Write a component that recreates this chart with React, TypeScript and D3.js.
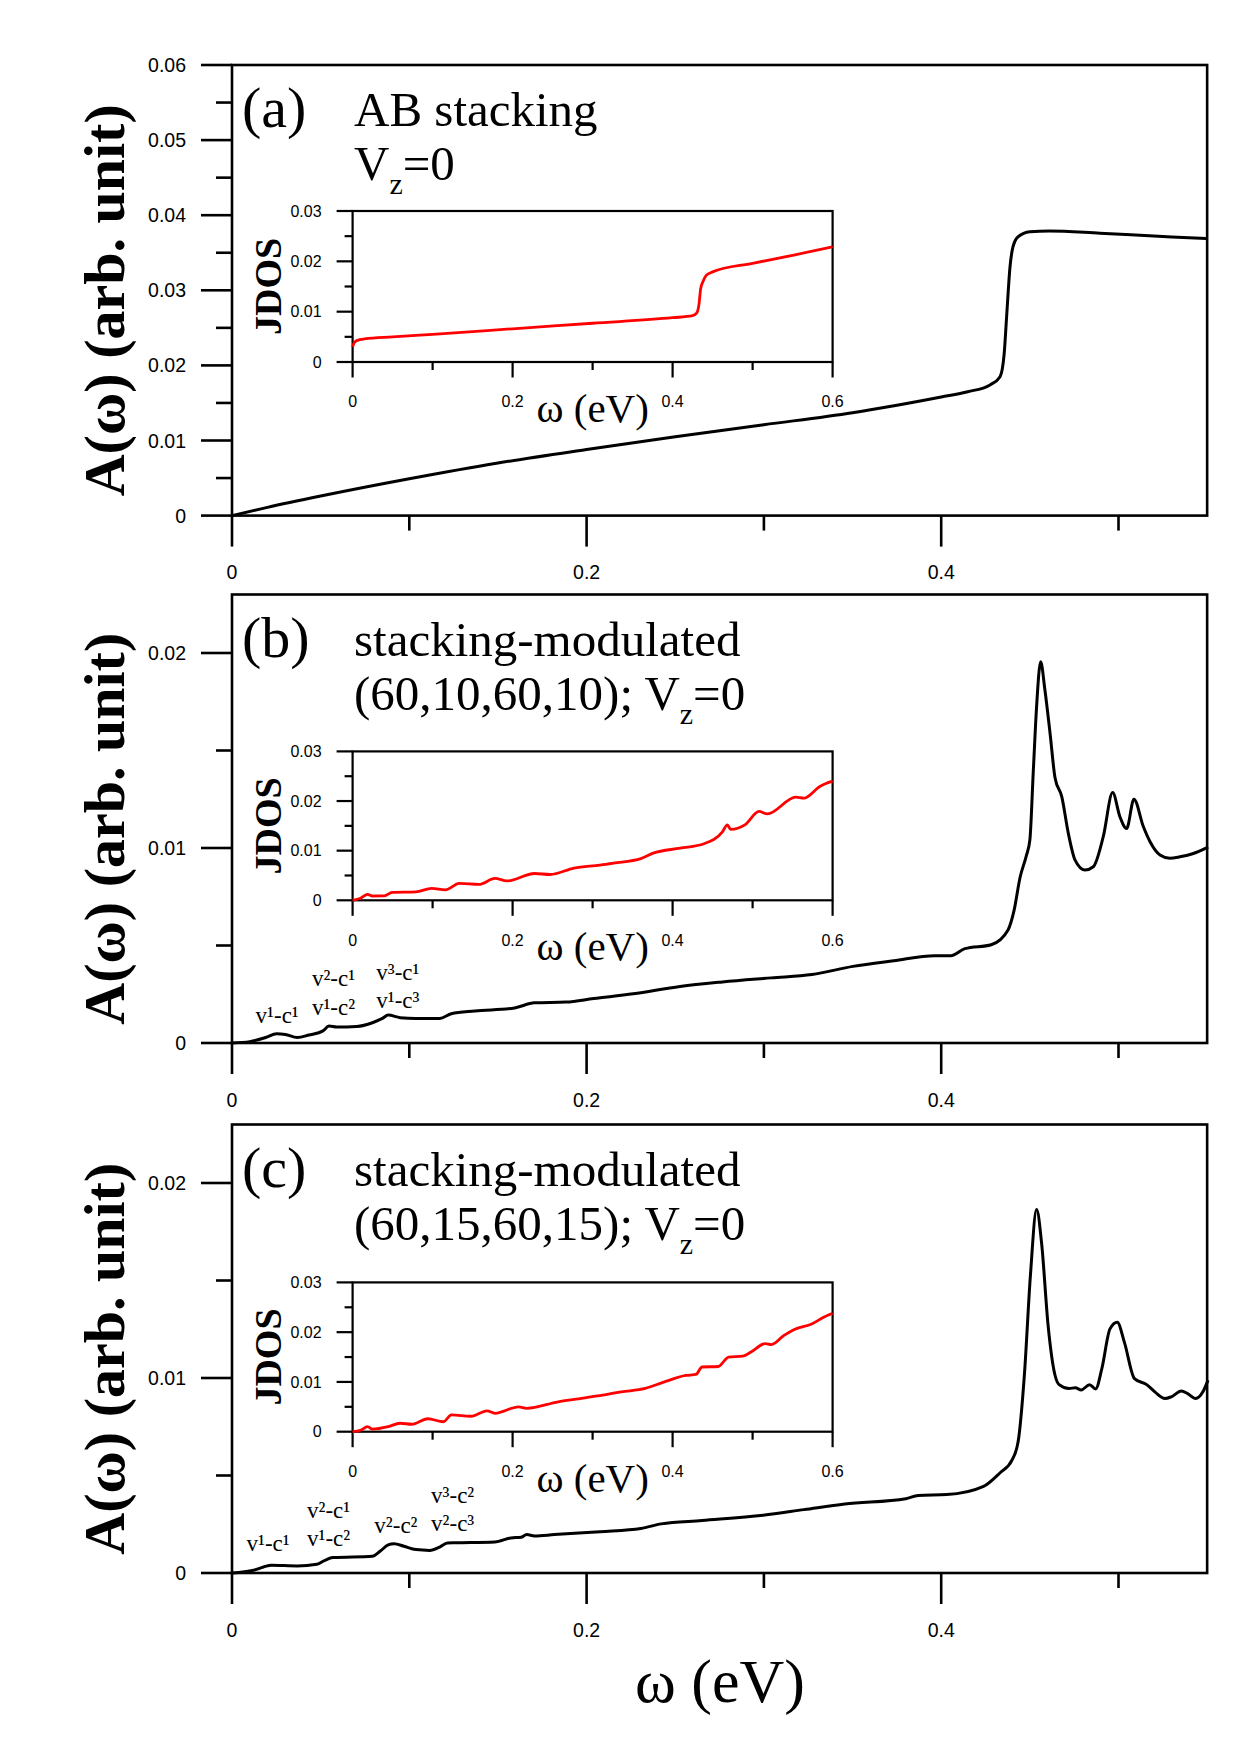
import React from "react";
import * as d3 from "d3";

const WIDTH = 1240;
const HEIGHT = 1754;

const SERIF = "'Liberation Serif', 'Times New Roman', serif";
const SANS = "'Liberation Sans', Arial, sans-serif";

// ---------- (a) AB stacking ----------
const omegaA = [0, 0.02, 0.05, 0.1, 0.15, 0.2, 0.25, 0.3, 0.35, 0.4, 0.415, 0.4275, 0.4332, 0.4355, 0.4369, 0.4388, 0.4405, 0.4433, 0.45, 0.461, 0.4896, 0.507, 0.53, 0.55];
const absorptionA = [0, 0.0011, 0.0026, 0.0049, 0.007, 0.0088, 0.0105, 0.0121, 0.0137, 0.0158, 0.0165, 0.0174, 0.0185, 0.0215, 0.0265, 0.0331, 0.0358, 0.0371, 0.0378, 0.0379, 0.0376, 0.0374, 0.0371, 0.0369];
const jdosOmegaA = [0, 0.002, 0.006, 0.015, 0.05, 0.1, 0.2, 0.3, 0.4, 0.425, 0.43, 0.433, 0.435, 0.438, 0.442, 0.45, 0.5, 0.55, 0.6];
const jdosA = [0.003, 0.0038, 0.0043, 0.0046, 0.005, 0.0055, 0.0066, 0.0077, 0.0088, 0.0092, 0.0097, 0.0115, 0.0145, 0.016, 0.0172, 0.0179, 0.0196, 0.0212, 0.0229];

// ---------- (b) stacking-modulated (60,10,60,10) ----------
const omegaB = [0, 0.01, 0.019, 0.0252, 0.0301, 0.0368, 0.0434, 0.0513, 0.0547, 0.0591, 0.0703, 0.0792, 0.0848, 0.0881, 0.0948, 0.1037, 0.1171, 0.1237, 0.137, 0.1594, 0.1706, 0.1884, 0.204, 0.2263, 0.2527, 0.2766, 0.3042, 0.3271, 0.3502, 0.3732, 0.3963, 0.4054, 0.4134, 0.4282, 0.4377, 0.4411, 0.4445, 0.448, 0.45, 0.4519, 0.4538, 0.4561, 0.4585, 0.4614, 0.4642, 0.468, 0.4717, 0.4755, 0.4811, 0.4858, 0.4914, 0.4967, 0.5008, 0.5046, 0.5087, 0.514, 0.5178, 0.5234, 0.529, 0.5347, 0.5422, 0.5505];
const absorptionB = [0, 0.00007, 0.00028, 0.00048, 0.00044, 0.00028, 0.00041, 0.00062, 0.00087, 0.00082, 0.00085, 0.00104, 0.00126, 0.00143, 0.0013, 0.00126, 0.00126, 0.0015, 0.00164, 0.0018, 0.00206, 0.0021, 0.00228, 0.00252, 0.0029, 0.00313, 0.00334, 0.00351, 0.00393, 0.00422, 0.00448, 0.00447, 0.00484, 0.00504, 0.0058, 0.0068, 0.0085, 0.0096, 0.0104, 0.01385, 0.01725, 0.01955, 0.0181, 0.01588, 0.0136, 0.01263, 0.01075, 0.00938, 0.00887, 0.00904, 0.01058, 0.01284, 0.0116, 0.011, 0.0125, 0.0111, 0.01032, 0.00964, 0.00947, 0.00955, 0.00972, 0.01005];
const jdosOmegaB = [0, 0.0099, 0.0188, 0.0247, 0.0396, 0.0494, 0.079, 0.0988, 0.116, 0.1335, 0.158, 0.178, 0.1928, 0.2274, 0.247, 0.2768, 0.3093, 0.3263, 0.3603, 0.3757, 0.4093, 0.4393, 0.4623, 0.4684, 0.4725, 0.4903, 0.508, 0.5184, 0.554, 0.564, 0.5846, 0.6];
const jdosB = [0, 0.0004, 0.0012, 0.00087, 0.0009, 0.0016, 0.0017, 0.0024, 0.0021, 0.0034, 0.0032, 0.0044, 0.0039, 0.0054, 0.0052, 0.0065, 0.0071, 0.0075, 0.0084, 0.0095, 0.0105, 0.0114, 0.0138, 0.0152, 0.0143, 0.0152, 0.0179, 0.0174, 0.0208, 0.0206, 0.023, 0.024];

// ---------- (c) stacking-modulated (60,15,60,15) ----------
const omegaC = [0, 0.0122, 0.0178, 0.0223, 0.0368, 0.0479, 0.0524, 0.0569, 0.0792, 0.0837, 0.0881, 0.0914, 0.097, 0.1037, 0.1115, 0.1171, 0.1215, 0.126, 0.1483, 0.1573, 0.163, 0.1662, 0.1706, 0.1818, 0.2076, 0.2306, 0.2421, 0.2651, 0.2996, 0.3226, 0.3456, 0.3801, 0.387, 0.4032, 0.4239, 0.4331, 0.44, 0.4434, 0.4469, 0.4503, 0.4538, 0.4566, 0.4603, 0.4642, 0.4665, 0.4721, 0.4756, 0.479, 0.4837, 0.4871, 0.4906, 0.4952, 0.4993, 0.5033, 0.509, 0.5159, 0.5205, 0.5262, 0.5297, 0.5355, 0.539, 0.5435, 0.5476, 0.5505];
const absorptionC = [0, 0.00014, 0.00031, 0.0004, 0.00036, 0.00045, 0.00065, 0.00079, 0.00086, 0.00113, 0.00144, 0.0015, 0.00137, 0.0012, 0.00116, 0.00133, 0.00154, 0.00155, 0.00159, 0.0018, 0.00183, 0.00197, 0.0019, 0.00197, 0.00212, 0.00228, 0.00252, 0.00269, 0.00296, 0.00325, 0.00354, 0.00381, 0.00398, 0.00402, 0.00444, 0.00513, 0.0058, 0.00674, 0.01014, 0.01524, 0.01864, 0.01694, 0.01269, 0.01014, 0.00966, 0.00946, 0.0095, 0.00939, 0.00966, 0.00944, 0.01048, 0.01252, 0.01286, 0.01184, 0.00997, 0.00966, 0.00929, 0.00895, 0.00903, 0.00933, 0.0092, 0.00895, 0.00929, 0.00989];
const jdosOmegaC = [0, 0.0099, 0.0188, 0.0247, 0.0445, 0.0593, 0.074, 0.0939, 0.1136, 0.1235, 0.148, 0.168, 0.178, 0.2076, 0.2175, 0.257, 0.2768, 0.3065, 0.3361, 0.3657, 0.388, 0.4164, 0.4292, 0.4368, 0.457, 0.47, 0.4878, 0.498, 0.5158, 0.5235, 0.5388, 0.5515, 0.5745, 0.5888, 0.6];
const jdosC = [0, 0.0003, 0.001, 0.0005, 0.001, 0.0017, 0.0015, 0.0026, 0.002, 0.0034, 0.0031, 0.0042, 0.0037, 0.005, 0.0047, 0.006, 0.0065, 0.0072, 0.008, 0.0087, 0.0099, 0.0113, 0.0115, 0.013, 0.0131, 0.015, 0.0152, 0.016, 0.0177, 0.0175, 0.0193, 0.0205, 0.0217, 0.023, 0.0238];

// ---------- transition labels (anchored in ω, A units) ----------
const notesB = [
  { text: "v¹-c¹", w: 0.0133, a: 0.00104 },
  { text: "v²-c¹", w: 0.0451, a: 0.00292 },
  { text: "v¹-c²", w: 0.0451, a: 0.00146 },
  { text: "v³-c¹", w: 0.0814, a: 0.00324 },
  { text: "v¹-c³", w: 0.0814, a: 0.0018 },
];
const notesC = [
  { text: "v¹-c¹", w: 0.0082, a: 0.00113 },
  { text: "v²-c¹", w: 0.0423, a: 0.00283 },
  { text: "v¹-c²", w: 0.0423, a: 0.00138 },
  { text: "v²-c²", w: 0.0803, a: 0.00206 },
  { text: "v³-c²", w: 0.1123, a: 0.00358 },
  { text: "v²-c³", w: 0.1123, a: 0.00215 },
];

// ---------- ticks ----------
const mainXMajor = [0, 0.2, 0.4];
const mainXLabels = ["0", "0.2", "0.4"];
const mainXMinor = [0.1, 0.3, 0.5];
const aYMajor = [0, 0.01, 0.02, 0.03, 0.04, 0.05, 0.06];
const aYLabels = ["0", "0.01", "0.02", "0.03", "0.04", "0.05", "0.06"];
const aYMinor = [0.005, 0.015, 0.025, 0.035, 0.045, 0.055];
const bcYMajor = [0, 0.01, 0.02];
const bcYLabels = ["0", "0.01", "0.02"];
const bcYMinor = [0.005, 0.015];
const insetXMajor = [0, 0.2, 0.4, 0.6];
const insetXLabels = ["0", "0.2", "0.4", "0.6"];
const insetXMinor = [0.1, 0.3, 0.5];
const insetYMajor = [0, 0.01, 0.02, 0.03];
const insetYLabels = ["0", "0.01", "0.02", "0.03"];
const insetYMinor = [0.005, 0.015, 0.025];

const zip = (xs: number[], ys: number[]) =>
  xs.slice(0, Math.min(xs.length, ys.length)).map((x, i) => [x, ys[i]] as [number, number]);

type Note = { text: string; w: number; a: number };

type PanelProps = {
  top: number;
  bottom: number;
  yMax: number;
  yMajor: number[];
  yLabels: string[];
  yMinor: number[];
  omega: number[];
  absorption: number[];
  insetTop: number;
  insetBottom: number;
  jOmega: number[];
  jdos: number[];
  letter: string;
  line1: string;
  line2Prefix: string;
  notes: Note[];
};

const X0 = 232;
const X1 = 232 + 0.55 * 1773;
const IX0 = 352.6;
const IX1 = 832.6;

function Panel(p: PanelProps) {
  const x = d3.scaleLinear().domain([0, 0.55]).range([X0, X1]);
  const y = d3.scaleLinear().domain([0, p.yMax]).range([p.bottom, p.top]);
  const ix = d3.scaleLinear().domain([0, 0.6]).range([IX0, IX1]);
  const iy = d3.scaleLinear().domain([0, 0.03]).range([p.insetBottom, p.insetTop]);

  const mainLine = d3
    .line<[number, number]>()
    .x((d) => x(d[0]))
    .y((d) => y(d[1]))
    .curve(d3.curveMonotoneX);
  const insetLine = d3
    .line<[number, number]>()
    .x((d) => ix(d[0]))
    .y((d) => iy(d[1]))
    .curve(d3.curveMonotoneX);

  const labelCenter = (p.top + p.bottom) / 2 + 10;

  return (
    <g>
      {/* main frame */}
      <rect x={X0} y={p.top} width={X1 - X0} height={p.bottom - p.top} fill="none" stroke="#000" strokeWidth={2.6} />
      {/* y ticks */}
      {p.yMajor.map((v, i) => (
        <g key={"ym" + i}>
          <line x1={X0 - 31} x2={X0} y1={y(v)} y2={y(v)} stroke="#000" strokeWidth={2.6} />
          <text x={X0 - 46} y={y(v)} dy="0.36em" textAnchor="end" fontFamily={SANS} fontSize={19.5}>
            {p.yLabels[i]}
          </text>
        </g>
      ))}
      {p.yMinor.map((v, i) => (
        <line key={"yn" + i} x1={X0 - 16} x2={X0} y1={y(v)} y2={y(v)} stroke="#000" strokeWidth={2.6} />
      ))}
      {/* x ticks */}
      {mainXMajor.map((v, i) => (
        <g key={"xm" + i}>
          <line x1={x(v)} x2={x(v)} y1={p.bottom} y2={p.bottom + 31} stroke="#000" strokeWidth={2.6} />
          <text x={x(v)} y={p.bottom + 56.5} dy="0.36em" textAnchor="middle" fontFamily={SANS} fontSize={19.5}>
            {mainXLabels[i]}
          </text>
        </g>
      ))}
      {mainXMinor.map((v, i) => (
        <line key={"xn" + i} x1={x(v)} x2={x(v)} y1={p.bottom} y2={p.bottom + 15} stroke="#000" strokeWidth={2.6} />
      ))}
      {/* main curve */}
      <path d={mainLine(zip(p.omega, p.absorption)) || ""} fill="none" stroke="#000" strokeWidth={3} strokeLinejoin="round" />

      {/* y-axis title */}
      <text
        transform={`translate(124,${labelCenter}) rotate(-90)`}
        textAnchor="middle"
        fontFamily={SERIF}
        fontWeight="bold"
        fontSize={58}
      >
        A(ω) (arb. unit)
      </text>

      {/* panel captions */}
      <text x={242} y={p.top + 62} fontFamily={SERIF} fontSize={58}>
        {p.letter}
      </text>
      <text x={354} y={p.top + 61} fontFamily={SERIF} fontSize={49}>
        {p.line1}
      </text>
      <text x={354} y={p.top + 115} fontFamily={SERIF} fontSize={49}>
        {p.line2Prefix}V
        <tspan dy={14} fontSize={30}>z</tspan>
        <tspan dy={-14}>=0</tspan>
      </text>

      {/* transition labels */}
      {p.notes.map((n, i) => (
        <text key={"nt" + i} x={x(n.w)} y={y(n.a)} fontFamily={SERIF} fontSize={23}>
          {n.text}
        </text>
      ))}

      {/* inset */}
      <rect x={IX0} y={p.insetTop} width={IX1 - IX0} height={p.insetBottom - p.insetTop} fill="none" stroke="#000" strokeWidth={2.2} />
      {insetYMajor.map((v, i) => (
        <g key={"iym" + i}>
          <line x1={IX0 - 16} x2={IX0} y1={iy(v)} y2={iy(v)} stroke="#000" strokeWidth={2.2} />
          <text x={IX0 - 31} y={iy(v)} dy="0.36em" textAnchor="end" fontFamily={SANS} fontSize={16}>
            {insetYLabels[i]}
          </text>
        </g>
      ))}
      {insetYMinor.map((v, i) => (
        <line key={"iyn" + i} x1={IX0 - 8} x2={IX0} y1={iy(v)} y2={iy(v)} stroke="#000" strokeWidth={2.2} />
      ))}
      {insetXMajor.map((v, i) => (
        <g key={"ixm" + i}>
          <line x1={ix(v)} x2={ix(v)} y1={p.insetBottom} y2={p.insetBottom + 15.5} stroke="#000" strokeWidth={2.2} />
          <text x={ix(v)} y={p.insetBottom + 39.5} dy="0.36em" textAnchor="middle" fontFamily={SANS} fontSize={16}>
            {insetXLabels[i]}
          </text>
        </g>
      ))}
      {insetXMinor.map((v, i) => (
        <line key={"ixn" + i} x1={ix(v)} x2={ix(v)} y1={p.insetBottom} y2={p.insetBottom + 8} stroke="#000" strokeWidth={2.2} />
      ))}
      <path d={insetLine(zip(p.jOmega, p.jdos)) || ""} fill="none" stroke="#ff0000" strokeWidth={2.8} strokeLinejoin="round" />
      <text x={536.5} y={p.insetBottom + 60} fontFamily={SERIF} fontSize={41}>
        ω (eV)
      </text>
      <text
        transform={`translate(281,${(p.insetTop + p.insetBottom) / 2}) rotate(-90)`}
        textAnchor="middle"
        fontFamily={SERIF}
        fontWeight="bold"
        fontSize={38}
      >
        JDOS
      </text>
    </g>
  );
}

export default function App() {
  return (
    <svg
      width={WIDTH}
      height={HEIGHT}
      viewBox={`0 0 ${WIDTH} ${HEIGHT}`}
      style={{ position: "absolute", left: 0, top: 0, background: "#fff" }}
    >
      <rect x={0} y={0} width={WIDTH} height={HEIGHT} fill="#fff" />
      <Panel
        top={65}
        bottom={515.6}
        yMax={0.06}
        yMajor={aYMajor}
        yLabels={aYLabels}
        yMinor={aYMinor}
        omega={omegaA}
        absorption={absorptionA}
        insetTop={211}
        insetBottom={362}
        jOmega={jdosOmegaA}
        jdos={jdosA}
        letter="(a)"
        line1="AB stacking"
        line2Prefix=""
        notes={[]}
      />
      <Panel
        top={594.5}
        bottom={1043}
        yMax={0.023}
        yMajor={bcYMajor}
        yLabels={bcYLabels}
        yMinor={bcYMinor}
        omega={omegaB}
        absorption={absorptionB}
        insetTop={751.4}
        insetBottom={900.3}
        jOmega={jdosOmegaB}
        jdos={jdosB}
        letter="(b)"
        line1="stacking-modulated"
        line2Prefix="(60,10,60,10); "
        notes={notesB}
      />
      <Panel
        top={1124.5}
        bottom={1573}
        yMax={0.023}
        yMajor={bcYMajor}
        yLabels={bcYLabels}
        yMinor={bcYMinor}
        omega={omegaC}
        absorption={absorptionC}
        insetTop={1282.4}
        insetBottom={1431.7}
        jOmega={jdosOmegaC}
        jdos={jdosC}
        letter="(c)"
        line1="stacking-modulated"
        line2Prefix="(60,15,60,15); "
        notes={notesC}
      />
      <text x={720} y={1702} textAnchor="middle" fontFamily={SERIF} fontSize={62}>
        ω (eV)
      </text>
    </svg>
  );
}
